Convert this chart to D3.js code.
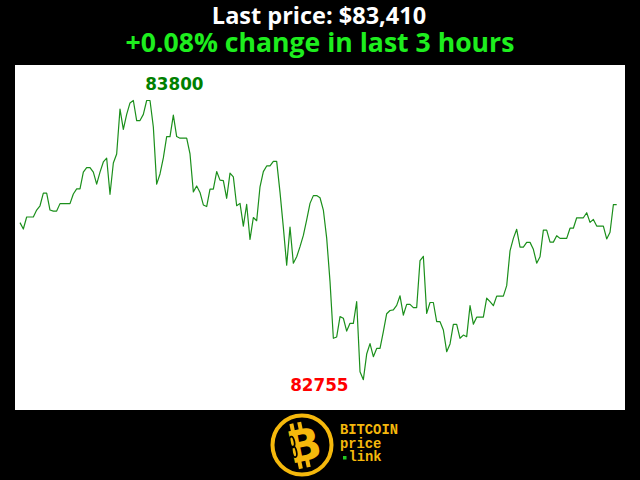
<!DOCTYPE html>
<html>
<head>
<meta charset="utf-8">
<script src="https://cdn.jsdelivr.net/npm/d3@7"></script>
<style>
html,body{margin:0;padding:0;background:#000;}
svg{display:block;}
</style>
</head>
<body>
<svg id="chart" width="640" height="480"></svg>
<script>
// ---- data ----
const lastPrice = 83410;
const changePct = 0.08;
const hours = 3;
const prices = [
83343,83319,83364,83364,83364,83390,83406,83453,83453,83390,
83386,83386,83414,83414,83414,83414,83450,83469,83469,83532,
83549,83549,83532,83487,83532,83570,83584,83449,83566,83600,
83768,83692,83748,83791,83800,83725,83725,83748,83800,83800,
83701,83487,83525,83585,83665,83665,83745,83665,83659,83659,
83659,83600,83458,83480,83456,83409,83403,83468,83468,83534,
83502,83500,83434,83528,83514,83406,83415,83330,83411,83280,
83362,83350,83477,83534,83555,83555,83572,83572,83456,83325,
83184,83326,83191,83215,83253,83295,83353,83415,83444,83444,
83436,83390,83285,83122,82910,82915,82991,82985,82937,82966,
82966,83047,82785,82755,82851,82890,82841,82872,82872,82935,
83002,83014,83016,83033,83069,82997,83037,83037,83025,83025,
83201,83217,83003,83044,83044,82972,82972,82941,82860,82889,
82962,82962,82910,82922,82916,83032,82963,82989,82989,82989,
83060,83047,83032,83068,83068,83068,83107,83237,83284,83318,
83251,83251,83269,83269,83243,83191,83215,83315,83315,83270,
83270,83294,83284,83284,83284,83322,83322,83361,83361,83361,
83380,83344,83355,83330,83330,83330,83282,83307,83410,83410
];
const logoLines = ["BITCOIN", "price", "link"];

// ---- drawing ----
const svg = d3.select("#chart");
svg.append("rect").attr("x",0).attr("y",0).attr("width",640).attr("height",480).attr("fill","#000");

// titles
svg.append("text").attr("x",319).attr("y",23.5).attr("text-anchor","middle")
  .attr("font-family","'Open Sans', sans-serif").attr("font-weight","bold")
  .attr("font-size",23.5).attr("fill","#fff")
  .text("Last price: $" + d3.format(",")(lastPrice));
svg.append("text").attr("x",320).attr("y",52).attr("text-anchor","middle")
  .attr("font-family","'Open Sans', sans-serif").attr("font-weight","bold")
  .attr("font-size",26.6).attr("fill","#1eee1e")
  .text("+" + changePct.toFixed(2) + "% change in last " + hours + " hours");

// plot area
svg.append("rect").attr("x",15).attr("y",65).attr("width",610).attr("height",345).attr("fill","#fff");

const x = d3.scaleLinear().domain([0, prices.length-1]).range([20, 616.7]);
const maxV = d3.max(prices), minV = d3.min(prices);
const y = d3.scaleLinear().domain([minV, maxV]).range([379.7, 100.5]);

const line = d3.line().x((d,i)=>x(i)).y(d=>y(d));
svg.append("path").datum(prices).attr("d",line)
  .attr("fill","none").attr("stroke","#1b8f1b").attr("stroke-width",1.2)
  .attr("stroke-linejoin","round");

const maxIdx = prices.indexOf(maxV), minIdx = prices.indexOf(minV);
svg.append("text").attr("x",x(maxIdx)+41).attr("y",y(maxV)-11).attr("text-anchor","middle")
  .attr("font-family","'DejaVu Sans', sans-serif").attr("font-weight","bold")
  .attr("font-size",16.8).attr("fill","#008000").text(maxV);
svg.append("text").attr("x",x(minIdx)-44).attr("y",y(minV)+11.5).attr("text-anchor","middle")
  .attr("font-family","'DejaVu Sans', sans-serif").attr("font-weight","bold")
  .attr("font-size",16.8).attr("fill","#ff0000").text(minV);

// logo
const gold = "#f5b80c";
const logo = svg.append("g").attr("transform","translate(302,445)");
logo.append("circle").attr("r",29.5).attr("fill","#000").attr("stroke",gold).attr("stroke-width",4);
const b = logo.append("g").attr("transform","rotate(-12)");
b.append("rect").attr("x",-8).attr("y",-23).attr("width",4).attr("height",8).attr("fill",gold);
b.append("rect").attr("x",0).attr("y",-23).attr("width",4).attr("height",8).attr("fill",gold);
b.append("rect").attr("x",-8).attr("y",15).attr("width",4).attr("height",8).attr("fill",gold);
b.append("rect").attr("x",0).attr("y",15).attr("width",4).attr("height",8).attr("fill",gold);
b.append("text").attr("x",2).attr("y",16).attr("text-anchor","middle")
  .attr("font-family","'DejaVu Sans', sans-serif").attr("font-weight","bold")
  .attr("font-size",44).attr("fill",gold).text("B");
// chain links
b.append("ellipse").attr("cx",-9).attr("cy",-5).attr("rx",2.3).attr("ry",5.5).attr("fill","none").attr("stroke","#000").attr("stroke-width",1.7);
b.append("ellipse").attr("cx",-9).attr("cy",5).attr("rx",2.3).attr("ry",5.5).attr("fill","none").attr("stroke","#000").attr("stroke-width",1.7);

const lg = svg.append("g").attr("font-family","'Liberation Mono', monospace").attr("font-weight","bold")
  .attr("font-size",13.8).attr("fill",gold);
lg.append("text").attr("x",340).attr("y",434).text(logoLines[0]);
lg.append("text").attr("x",340).attr("y",447.5).text(logoLines[1]);
lg.append("text").attr("x",348.5).attr("y",461).text(logoLines[2]);
svg.append("rect").attr("x",343).attr("y",456).attr("width",3.5).attr("height",3.5).attr("fill","#22c922");
</script>
</body>
</html>
